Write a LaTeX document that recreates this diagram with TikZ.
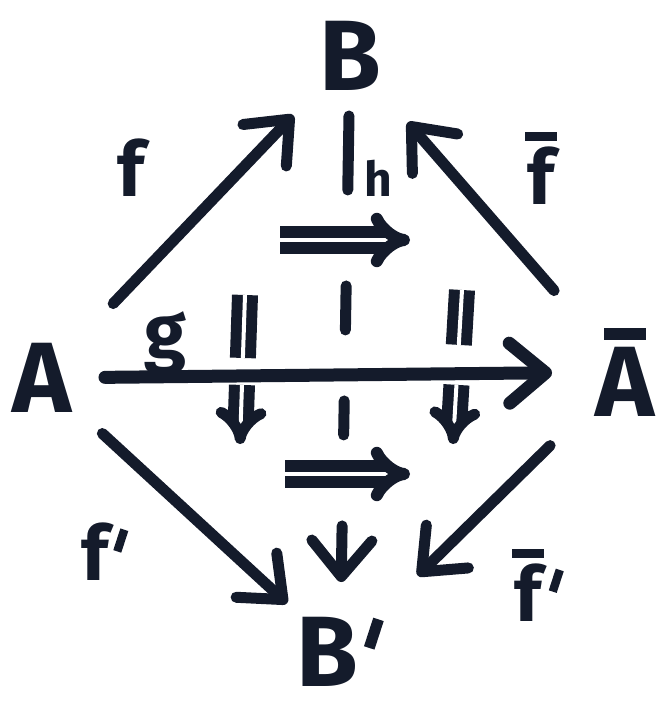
\documentclass[tikz,border=0pt]{standalone}
\usepackage{fontspec}
\setmainfont{Fira Sans}
\usetikzlibrary{arrows.meta}
\definecolor{ink}{HTML}{141B2B}
\newcommand\barred[1]{\leavevmode\vbox{\offinterlineskip\halign{\hfil##\hfil\cr\rule{.42em}{.12em}\cr\noalign{\kern.07em}\hbox{#1}\cr}}}
\newcommand\tick{\kern.06em\raisebox{.38em}{\rotatebox[origin=c]{-18}{\rule{.11em}{.3em}}}}

\begin{document}
\begin{tikzpicture}[
  x=1pt, y=-1pt,
  obj/.style={font=\fontsize{100}{100}\selectfont\bfseries, text=ink, inner sep=0pt},
  lbl/.style={font=\fontsize{76}{76}\selectfont\bfseries, text=ink, inner sep=0pt},
  arr/.style={draw=ink, line width=11pt, line cap=round,
    -{Straight Barb[length=36pt,width=60pt,round]}},
  cell/.style={draw=ink, double=white, line width=12pt, double distance=4pt,
    line cap=butt, -Implies}
]
\useasboundingbox (0,0) rectangle (661,708);

\node[obj] (B) at (350,56) {B};
\node[obj] (A) at (42,378) {A};
\node[obj] (Ab) at (625,372) {\barred{A}};
\node[obj] (Bp) at (340,652) {B\tick};

\node[lbl] (lf) at (131,168) {f};
\node[lbl] (lfb) at (541,168) {\barred{f}};
\node[lbl] (lg) at (165,343) {g};
\node[lbl, font=\fontsize{48}{48}\selectfont\bfseries] (lh) at (378,178) {h};
\node[lbl] (lfp) at (105,552) {f\tick};
\node[lbl] (lfbp) at (538,585) {\barred{f}\tick};

\draw[arr, shorten <=103pt, shorten >=82pt] (A.center) -- (B.center);
\draw[arr, shorten <=108pt, shorten >=88pt] (Ab.center) -- (B.center);
\draw[arr, line width=13pt, shorten <=63pt, shorten >=73pt] (A.center) -- (Ab.center);
\draw[arr, shorten <=82pt, shorten >=72pt] (A.center) -- (Bp.center);
\draw[arr, shorten <=105pt, shorten >=109pt] (Ab.center) -- (Bp.center);
\draw[arr, dash pattern=on 74pt off 96pt on 44pt off 71pt on 34pt off 91pt on 200pt,
  shorten <=60pt, shorten >=70pt] (B.center) -- (Bp.center);

% two-cells
\coordinate (tl) at (280,240);
\coordinate (tr) at (410,240);
\coordinate (bl) at (285,474);
\coordinate (br) at (410,474);
\coordinate (lt) at (245,295);
\coordinate (lb) at (240,444);
\coordinate (rt) at (462,290);
\coordinate (rb) at (453,444);
\draw[cell] (tl) -- (tr);
\draw[cell] (bl) -- (br);
\draw[cell, line width=11pt, dash pattern=on 63pt off 27pt on 200pt] (lt) -- (lb);
\draw[cell, line width=11pt, dash pattern=on 55pt off 40pt on 200pt] (rt) -- (rb);
\end{tikzpicture}
\end{document}
